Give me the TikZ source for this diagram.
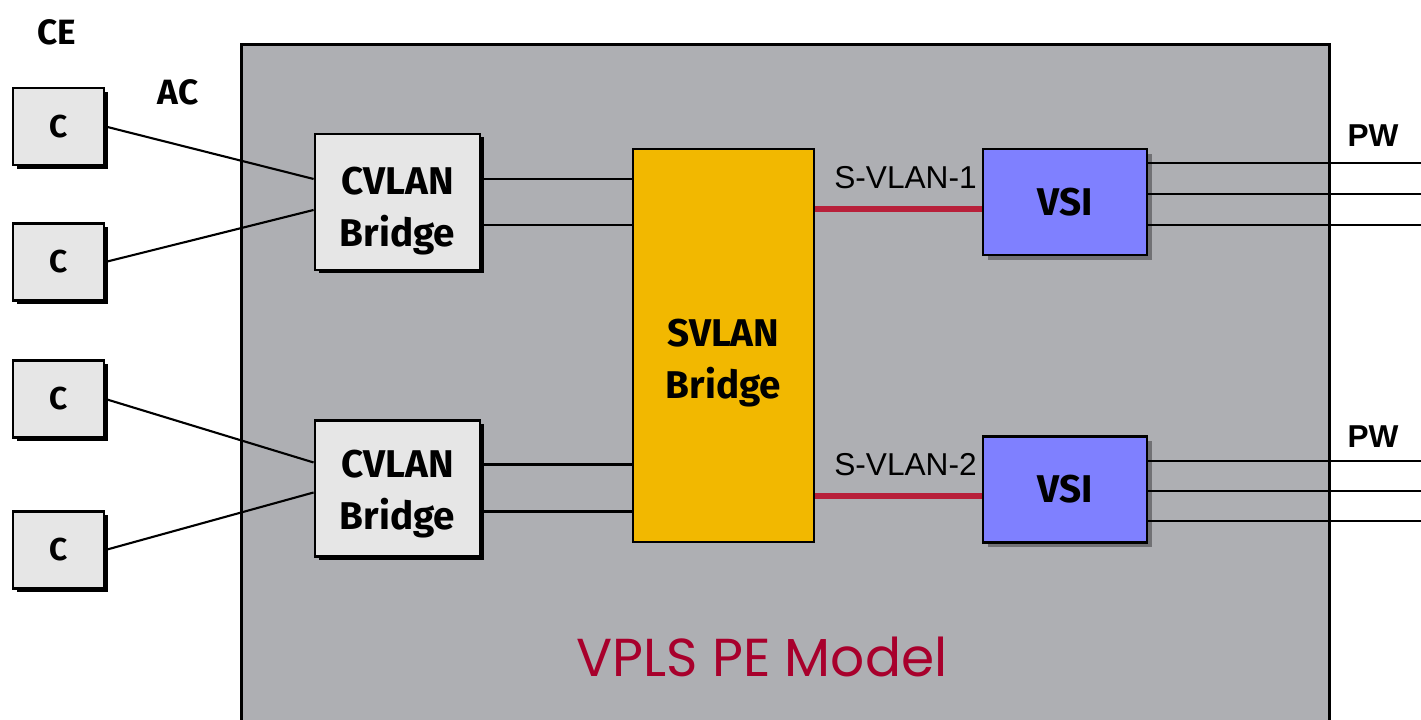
\documentclass[tikz,border=0pt]{standalone}
\usepackage{fontspec}
\setmainfont{Fira Sans}
\newfontfamily\arialfont{Liberation Sans}
\newfontfamily\titlefont{Poppins}
\usetikzlibrary{positioning,shadows}

\definecolor{pebg}{HTML}{AEAFB3}
\definecolor{cebox}{HTML}{E6E6E6}
\definecolor{svlanfill}{HTML}{F2B800}
\definecolor{vsifill}{HTML}{7F80FF}
\definecolor{svlanline}{HTML}{B8203A}
\definecolor{titlered}{HTML}{A8002C}

\tikzset{
  cebox/.style={draw, thick, fill=cebox, inner sep=0pt, minimum width=0.91cm, minimum height=0.77cm,
    font=\fontsize{9}{11}\selectfont\bfseries,
    drop shadow={shadow xshift=0.04cm, shadow yshift=-0.04cm, fill=black, opacity=1}},
  cvlanbox/.style={draw, thick, fill=cebox, inner sep=0pt, minimum width=1.65cm, minimum height=1.36cm,
    drop shadow={shadow xshift=0.035cm, shadow yshift=-0.035cm, fill=black, opacity=1}},
  boxtext/.style={align=center, font=\fontsize{11}{14.8}\selectfont\bfseries},
  vsibox/.style={draw, thick, fill=vsifill, inner sep=0pt, minimum width=1.64cm, minimum height=1.06cm,
    font=\fontsize{11}{13}\selectfont\bfseries,
    drop shadow={shadow xshift=0.05cm, shadow yshift=-0.05cm, fill=black, opacity=0.35}},
  biglabel/.style={font=\fontsize{10}{12}\selectfont\bfseries},
  pwlabel/.style={font=\arialfont\fontsize{9}{11}\selectfont\bfseries},
  vlanlabel/.style={font=\arialfont\fontsize{9}{11}\selectfont},
  acline/.style={semithick},
  redline/.style={line width=1.7pt, draw=svlanline},
}

\begin{document}
\begin{tikzpicture}
  \useasboundingbox (0,0) rectangle (14.21,7.2);
  % PE frame
  \node[draw, thick, fill=pebg, inner sep=0pt, minimum width=10.88cm, minimum height=7.0cm,
    anchor=north west] (pe) at (2.40,6.77) {};
  \node[font=\titlefont\fontsize{15.2}{18}\selectfont, text=titlered] (title) at (7.62,0.63) {VPLS PE Model};
  % labels
  \node[biglabel] (ce) at (0.57,6.88) {CE};
  \node[biglabel] (ac) at (1.78,6.28) {AC};
  \node[pwlabel] (pw1) at (13.73,5.84) {PW};
  \node[pwlabel] (pw2) at (13.73,2.83) {PW};
  % customer edges
  \node[cebox] (c1) at (0.585,5.935) {C};
  \node[cebox] (c2) at (0.585,4.58) {C};
  \node[cebox] (c3) at (0.585,3.21) {C};
  \node[cebox] (c4) at (0.585,1.70) {C};
  % bridges
  \node[cvlanbox, label={[boxtext, yshift=-0.9mm]center:CVLAN\\Bridge}] (cv1) at (3.975,5.18) {};
  \node[cvlanbox, label={[boxtext, yshift=-0.6mm]center:CVLAN\\Bridge}] (cv2) at (3.975,2.315) {};
  \node[draw, thick, fill=svlanfill, inner sep=0pt, minimum width=1.81cm, minimum height=3.93cm,
    label={[boxtext, yshift=-1.8mm]center:SVLAN\\Bridge}] (sv) at (7.235,3.745) {};
  \node[vsibox] (vsi1) at (10.65,5.18) {VSI};
  \node[vsibox] (vsi2) at (10.65,2.305) {VSI};
  \coordinate (rim) at (14.21,0);
  % attachment circuits
  \draw[acline] (c1.east) -- ([yshift=2.3mm]cv1.west);
  \draw[acline] (c2.east) -- ([yshift=-0.8mm]cv1.west);
  \draw[acline] (c3.east) -- ([yshift=2.6mm]cv2.west);
  \draw[acline] (c4.east) -- ([yshift=-0.4mm]cv2.west);
  % cvlan to svlan
  \foreach \b/\s in {cv1/2.3mm, cv1/-2.3mm, cv2/2.4mm, cv2/-2.3mm}
    \draw[acline] ([yshift=\s]\b.east) -- ([yshift=\s]\b.east -| sv.west);
  % service vlans
  \draw[redline] ([yshift=-0.7mm]vsi1.west -| sv.east) -- ([yshift=-0.7mm]vsi1.west)
    node[vlanlabel, midway, above=0.5mm, xshift=0.7mm] (sl1) {S-VLAN-1};
  \draw[redline] ([yshift=-0.65mm]vsi2.west -| sv.east) -- ([yshift=-0.65mm]vsi2.west)
    node[vlanlabel, midway, above=0.5mm, xshift=0.7mm] (sl2) {S-VLAN-2};
  % pseudowires
  \foreach \v/\s in {vsi1/3.9mm, vsi1/0.8mm, vsi1/-2.3mm, vsi2/2.85mm, vsi2/-0.15mm, vsi2/-3.15mm}
    \draw[acline] ([yshift=\s]\v.east) -- ([yshift=\s]\v.east -| rim);
\end{tikzpicture}
\end{document}
